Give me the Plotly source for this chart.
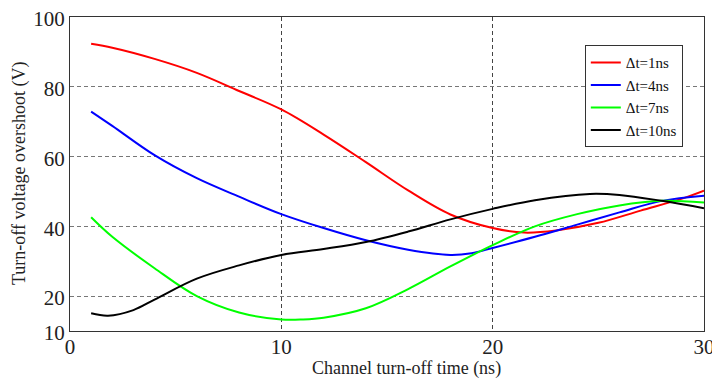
import plotly.graph_objects as go

# Data
t_red = [1, 2, 4, 6, 8, 10, 12, 14, 16, 18, 20, 21.5, 23, 25, 27, 29, 30]
v_red = [92.3, 91.2, 88, 84, 78.8, 73.5, 66.3, 58.4, 50.3, 43.4, 39.5, 38.2, 38.8, 41, 44.5, 48, 50.2]

t_blue = [1, 2, 4, 6, 8, 10, 12, 14, 16, 18, 19, 20, 22, 24, 26, 28, 30]
v_blue = [72.9, 68.8, 60.4, 53.8, 48.5, 43.5, 39.5, 36, 33.3, 31.8, 32.3, 33.8, 37, 40.5, 44, 47.3, 48.8]

t_green = [1, 2, 4, 6, 8, 10, 11, 12, 14, 16, 18, 20, 22, 24, 26, 28, 30]
v_green = [42.6, 37, 28, 20, 15.3, 13.3, 13.3, 13.8, 16.5, 22, 28.5, 34.6, 40, 43.5, 46, 47.3, 46.8]

t_black = [1, 1.8, 3, 4, 6, 8, 10, 12, 14, 16, 18, 20, 22, 24.6, 26, 28, 30]
v_black = [15.1, 14.4, 16, 19, 25, 28.8, 31.8, 33.5, 35.5, 38.5, 42, 45, 47.5, 49.3, 49, 47.3, 45.2]

names = ["Δt=1ns", "Δt=4ns", "Δt=7ns", "Δt=10ns"]
colors = ["#ff0000", "#0000ff", "#00ff00", "#000000"]

x_ticks = [0, 10, 20, 30]
y_ticks = [10, 20, 40, 60, 80, 100]

FONT = "Liberation Serif"

fig = go.Figure()
for tx, vy, nm, c in zip([t_red, t_blue, t_green, t_black],
                         [v_red, v_blue, v_green, v_black], names, colors):
    fig.add_trace(go.Scatter(x=tx, y=vy, mode="lines", name=nm,
                             line=dict(color=c, width=2, shape="spline", smoothing=1.0)))

# page body has an 8px default margin, so the figure is offset by 8px
fig.update_layout(
    width=712, height=370,
    margin=dict(l=62, r=16, t=9, b=47, autoexpand=False),
    paper_bgcolor="white", plot_bgcolor="white",
    font=dict(family=FONT, color="#222"),
    showlegend=True,
    legend=dict(x=0.812, y=0.91, xanchor="left", yanchor="top",
                bgcolor="white", bordercolor="#333", borderwidth=1,
                font=dict(family=FONT, size=15, color="#111"),
                tracegroupgap=0, itemwidth=30),
    annotations=[
        dict(text="Channel turn-off time (ns)", xref="paper", yref="paper",
             x=0.53, y=0, yshift=-37, showarrow=False, xanchor="center", yanchor="middle",
             font=dict(family=FONT, size=18, color="#222")),
        dict(text="Turn-off voltage overshoot (V)", xref="paper", yref="paper",
             x=0, y=0.5, xshift=-51, showarrow=False, textangle=-90,
             xanchor="center", yanchor="middle",
             font=dict(family=FONT, size=18, color="#222")),
    ],
)

fig.update_xaxes(range=[0, 30], tickvals=x_ticks, ticktext=[str(v) for v in x_ticks],
                 automargin=False, ticklabeloverflow="allow", ticklabelstandoff=-3,
                 showline=True, linecolor="#333", linewidth=1, mirror=True,
                 showgrid=True, gridcolor="#444", griddash="4px,3px", gridwidth=1,
                 zeroline=False, ticks="", tickfont=dict(family=FONT, size=21, color="#222"))
fig.update_yaxes(range=[10, 100], tickvals=y_ticks, ticktext=[str(v) for v in y_ticks],
                 automargin=False, ticklabeloverflow="allow", ticklabelshift=2,
                 showline=True, linecolor="#333", linewidth=1, mirror=True,
                 showgrid=True, gridcolor="#777", griddash="4px,3px", gridwidth=1,
                 zeroline=False, ticks="", tickfont=dict(family=FONT, size=21, color="#222"))

fig.write_html("out.html")
